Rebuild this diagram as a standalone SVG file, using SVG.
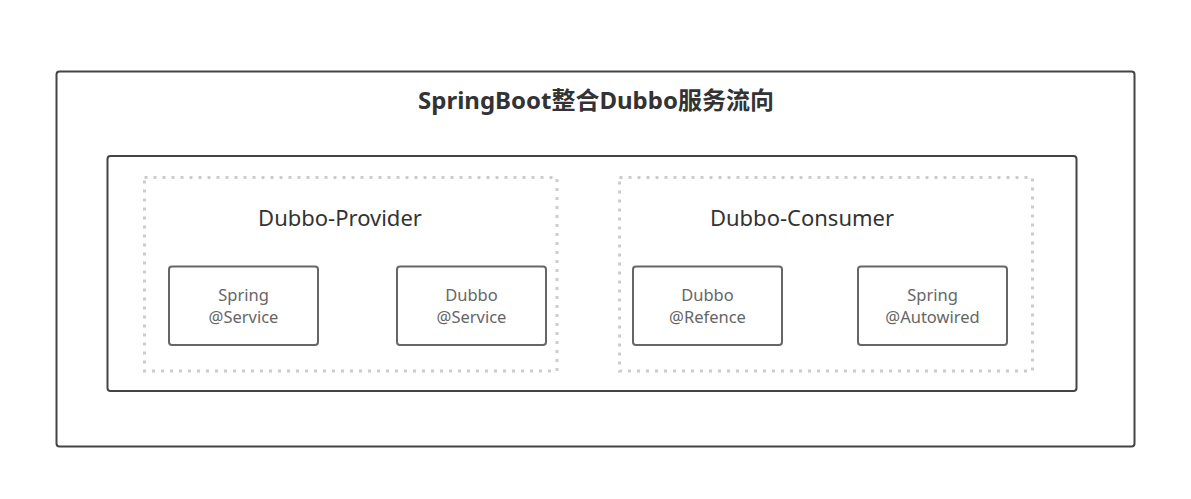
<svg xmlns="http://www.w3.org/2000/svg" width="1191" height="499" viewBox="0 0 1191 499">
<style>
.frame{fill:#fff;stroke:#444;stroke-width:2}
.group{fill:none;stroke:#ccc;stroke-width:3;stroke-dasharray:3 6}
.box{fill:#fff;stroke:#666;stroke-width:2}
.title{font-family:"Noto Sans","Noto Sans CJK SC",sans-serif;font-weight:bold;font-size:24px;fill:#333;text-anchor:middle}
.label{font-family:"Noto Sans","Noto Sans CJK SC",sans-serif;font-size:22px;fill:#333;text-anchor:middle}
.txt{font-family:"Noto Sans","Noto Sans CJK SC",sans-serif;font-size:16.5px;fill:#666;text-anchor:middle}
</style>
<rect width="1191" height="499" fill="#fff"/>
<g id="outer">
<rect class="frame" x="56.5" y="71.5" width="1078" height="375" rx="3"/>
<text class="title" x="596" y="109">SpringBoot整合Dubbo服务流向</text>
</g>
<g id="inner">
<rect class="frame" x="107.5" y="156" width="969" height="235" rx="3"/>
</g>
<g id="provider">
<rect class="group" x="144.5" y="177.5" width="412.5" height="193.5"/>
<text class="label" x="340" y="226">Dubbo-Provider</text>
</g>
<g id="consumer">
<rect class="group" x="619.5" y="177.5" width="413" height="193.5"/>
<text class="label" x="802" y="226">Dubbo-Consumer</text>
</g>
<g id="spring-service">
<rect class="box" x="169" y="266.5" width="149" height="78.5" rx="3"/>
<text class="txt" x="243.5" y="301"><tspan x="243.5">Spring</tspan><tspan x="243.5" dy="21.5">@Service</tspan></text>
</g>
<g id="dubbo-service">
<rect class="box" x="397" y="266.5" width="149" height="78.5" rx="3"/>
<text class="txt" x="471.5" y="301"><tspan x="471.5">Dubbo</tspan><tspan x="471.5" dy="21.5">@Service</tspan></text>
</g>
<g id="dubbo-refence">
<rect class="box" x="633" y="266.5" width="149" height="78.5" rx="3"/>
<text class="txt" x="707.5" y="301"><tspan x="707.5">Dubbo</tspan><tspan x="707.5" dy="21.5">@Refence</tspan></text>
</g>
<g id="spring-autowired">
<rect class="box" x="858" y="266.5" width="149" height="78.5" rx="3"/>
<text class="txt" x="932.5" y="301"><tspan x="932.5">Spring</tspan><tspan x="932.5" dy="21.5">@Autowired</tspan></text>
</g>
<g id="connectors"></g>
</svg>
